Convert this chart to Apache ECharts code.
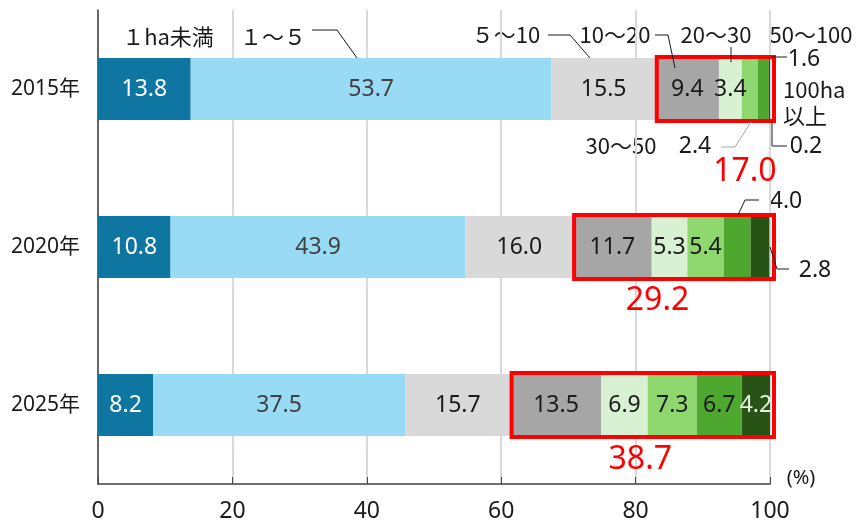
<!DOCTYPE html>
<html>
<head>
<meta charset="utf-8">
<script src="https://cdn.jsdelivr.net/npm/echarts@6.0.0/dist/echarts.min.js"></script>
<style>
  html, body { margin: 0; padding: 0; background: #fff; }
  #chart { width: 865px; height: 526px; }
</style>
</head>
<body>
<div id="chart"></div>
<script>
// rows (top to bottom)
const years = ['2015年', '2020年', '2025年']
// farm size classes, smallest first
const classes = ['１ha未満', '１～５', '５～10', '10～20', '20～30', '30～50', '50～100', '100ha以上']
// share (%) of each class per year
const under1 = [13.8, 10.8, 8.2]
const ha1to5 = [53.7, 43.9, 37.5]
const ha5to10 = [15.5, 16.0, 15.7]
const ha10to20 = [9.4, 11.7, 13.5]
const ha20to30 = [3.4, 5.3, 6.9]
const ha30to50 = [2.4, 5.4, 7.3]
const ha50to100 = [1.6, 4.0, 6.7]
const over100 = [0.2, 2.8, 4.2]
// share of 10ha and over (red figures)
const over10Total = [17.0, 29.2, 38.7]
const xTicks = [0, 20, 40, 60, 80, 100]

const seriesValues = [under1, ha1to5, ha5to10, ha10to20, ha20to30, ha30to50, ha50to100, over100]
const colors = ['#0e76a0', '#99dbf5', '#d9d9d9', '#a6a6a6', '#d9f1d3', '#8fd870', '#4ea72e', '#275317']
const labelColors = ['#ffffff', '#404040', '#1a1a1a', '#1a1a1a', '#1a1a1a', '#1a1a1a', '#1a1a1a', '#e4f2dc']
// labels written outside the bar instead of inside: [row, class]
const outsideLabels = [[0, 5], [0, 6], [0, 7], [1, 6], [1, 7]]

const numFont = "'Noto Sans', 'Noto Sans CJK JP', sans-serif"
const jpFont = "'Noto Sans CJK JP', 'Noto Sans', sans-serif"
const barHeight = 62

const chart = echarts.init(document.getElementById('chart'))

const barSeries = seriesValues.map((vals, si) => ({
  name: classes[si],
  type: 'bar',
  stack: 'total',
  barWidth: barHeight,
  itemStyle: { color: colors[si] },
  label: {
    show: true,
    position: 'inside',
    color: labelColors[si],
    fontFamily: numFont,
    fontSize: 23,
    formatter: (p) => p.value.toFixed(1),
  },
  data: vals.map((v, row) => {
    const hide = outsideLabels.some(([r, c]) => r === row && c === si)
    return hide ? { value: v, label: { show: false } } : v
  }),
}))

// start of the 10ha+ group for each row
const groupStart = years.map((y, row) => under1[row] + ha1to5[row] + ha5to10[row])
// where the red total sits, relative to the box (dx from box centre, dy below bar)
const totalOffset = [[32, 52], [-14, 23], [0, 24]]

const boxSeries = {
  type: 'custom',
  z: 10,
  silent: true,
  encode: { x: [1, 2], y: 0 },
  data: years.map((y, row) => [row, groupStart[row], 100, over10Total[row]]),
  renderItem: (params, api) => {
    const row = api.value(0)
    const a = api.coord([api.value(1), row])
    const b = api.coord([api.value(2), row])
    const off = totalOffset[row]
    return {
      type: 'group',
      children: [
        {
          type: 'rect',
          shape: { x: a[0] + 1, y: a[1] - barHeight / 2 - 1, width: b[0] - a[0] + 3, height: barHeight + 2 },
          style: { fill: 'none', stroke: '#ff0000', lineWidth: 4 },
        },
        {
          type: 'text',
          style: {
            x: (a[0] + b[0]) / 2 + off[0],
            y: a[1] + barHeight / 2 + off[1],
            text: api.value(3).toFixed(1),
            fill: '#ff0000',
            font: '32px ' + numFont,
            align: 'center',
            verticalAlign: 'middle',
          },
        },
      ],
    }
  },
}

// class names and outside values with their leader lines
const note = (x, y, text, align) => ({
  type: 'text',
  x: x,
  y: y,
  style: { text: text, fill: '#1a1a1a', font: '22px ' + jpFont, align: align || 'center', verticalAlign: 'middle' },
})
const numNote = (x, y, text) => ({
  type: 'text',
  x: x,
  y: y,
  style: { text: text, fill: '#1a1a1a', font: '23px ' + numFont, align: 'center', verticalAlign: 'middle' },
})
const leader = (pts, color) => ({
  type: 'polyline',
  shape: { points: pts },
  style: { stroke: color || '#1a1a1a', lineWidth: 1, fill: 'none' },
  z: 20,
})

const graphics = [
  note(168, 37, classes[0]),
  note(273, 37, classes[1]),
  leader([[312, 30], [337, 30], [357, 58]]),
  note(506, 35, classes[2]),
  leader([[548, 35], [570, 35], [590, 58]]),
  note(615, 35, classes[3]),
  leader([[655, 35], [668, 35], [675, 68]]),
  note(716, 35, classes[4]),
  leader([[731, 47], [731, 62]]),
  note(811, 35, classes[6]),
  numNote(804, 59, ha50to100[0].toFixed(1)),
  leader([[772, 57], [787, 57]]),
  note(783, 90, '100ha', 'left'),
  note(783, 116, '以上', 'left'),
  note(621, 146, classes[5]),
  numNote(695, 146, ha30to50[0].toFixed(1)),
  leader([[721, 147], [735, 147], [751, 122]], '#a6a6a6'),
  numNote(806, 146, over100[0].toFixed(1)),
  leader([[772, 121], [772, 146], [787, 146]]),
  numNote(786, 201, ha50to100[1].toFixed(1)),
  leader([[738, 215], [745, 200], [759, 200]]),
  numNote(815, 270, over100[1].toFixed(1)),
  leader([[770, 247], [777, 269], [789, 269]]),
  {
    type: 'text',
    x: 801,
    y: 478,
    style: { text: '(%)', fill: '#1a1a1a', font: '20px ' + numFont, align: 'center', verticalAlign: 'middle' },
  },
]

const option = {
  animation: false,
  grid: { left: 98, right: 95, top: 10, bottom: 42 },
  xAxis: {
    type: 'value',
    min: xTicks[0],
    max: xTicks[xTicks.length - 1],
    interval: 20,
    axisLine: { show: true, lineStyle: { color: '#404040', width: 1.5 } },
    axisTick: { show: true, inside: true, length: 7, lineStyle: { color: '#404040' } },
    axisLabel: { color: '#1a1a1a', fontFamily: numFont, fontSize: 23, margin: 16 },
    splitLine: { show: true, lineStyle: { color: '#d9d9d9', width: 2 } },
  },
  yAxis: {
    type: 'category',
    inverse: true,
    data: years,
    axisLine: { show: true, lineStyle: { color: '#404040', width: 1.5 } },
    axisTick: { show: false },
    axisLabel: { color: '#1a1a1a', fontFamily: numFont, fontSize: 21, margin: 18 },
  },
  series: [...barSeries, boxSeries],
  graphic: graphics,
}

chart.setOption(option)
</script>
</body>
</html>
